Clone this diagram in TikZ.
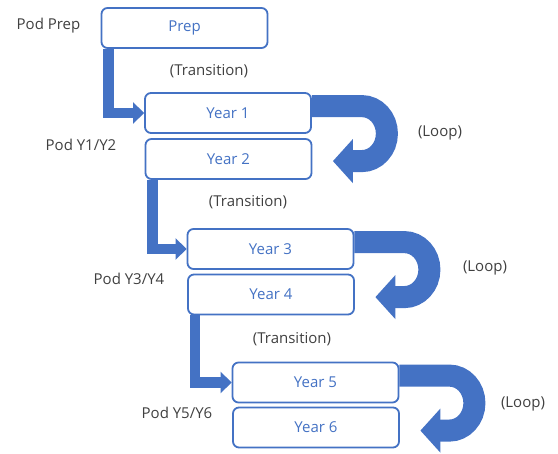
\documentclass[tikz,border=0pt]{standalone}
\usepackage{fontspec}
\setmainfont{Open Sans}
\usetikzlibrary{arrows.meta}
\definecolor{podblue}{HTML}{4472C4}
\definecolor{podgray}{HTML}{404040}
\tikzset{
  yearbox/.style={draw=podblue, line width=1.8pt, rounded corners=6pt, fill=white,
    minimum width=166pt, minimum height=40pt, text=podblue, font=\fontsize{15}{18}\selectfont},
  podlabel/.style={text=podgray, font=\fontsize{15}{18}\selectfont},
  transition/.style={draw=podblue, line width=10.5pt,
    -{Triangle[length=11pt, width=21pt]}},
  looparrow/.style={draw=podblue, line width=22pt,
    -{Triangle[length=20pt, width=43pt]}}
}
\begin{document}
\begin{tikzpicture}[x=1pt, y=-1pt]
    \useasboundingbox (0,0) rectangle (558,454);
    % boxes
    \node[yearbox] (prep) at (184.5,28) {Prep};
    \node[yearbox] (y1) at (228,113) {Year 1};
    \node[yearbox] (y2) at (228.5,159) {Year 2};
    \node[yearbox] (y3) at (270.5,249) {Year 3};
    \node[yearbox] (y4) at (271,294.5) {Year 4};
    \node[yearbox] (y5) at (315.5,382.5) {Year 5};
    \node[yearbox] (y6) at (316,427.5) {Year 6};
    % labels
    \node[podlabel] (podprep) at (48.5,26) {Pod Prep};
    \node[podlabel] (pod12) at (81,145) {Pod Y1/Y2};
    \node[podlabel] (pod34) at (129,279) {Pod Y3/Y4};
    \node[podlabel] (pod56) at (177,413) {Pod Y5/Y6};
    \node[podlabel] (tr1) at (209,71) {(Transition)};
    \node[podlabel] (tr2) at (248,202) {(Transition)};
    \node[podlabel] (tr3) at (292,339) {(Transition)};
    \node[podlabel] (lp1) at (440,133) {(Loop)};
    \node[podlabel] (lp2) at (485,268) {(Loop)};
    \node[podlabel] (lp3) at (523,404) {(Loop)};
    % transitions
    \draw[transition] ([xshift=8pt]prep.south west) |- (y1.west);
    \draw[transition] ([xshift=8pt]y2.south west) |- (y3.west);
    \draw[transition] ([xshift=8pt]y4.south west) |- (y5.west);
    % loops
    \foreach \b in {y1,y3,y5}
      \draw[looparrow] ([yshift=-14pt]\b.north east) -- ++(50,0)
        arc[start angle=-90, end angle=90, x radius=25, y radius=27.5] -- ++(-29,0);
\end{tikzpicture}
\end{document}
